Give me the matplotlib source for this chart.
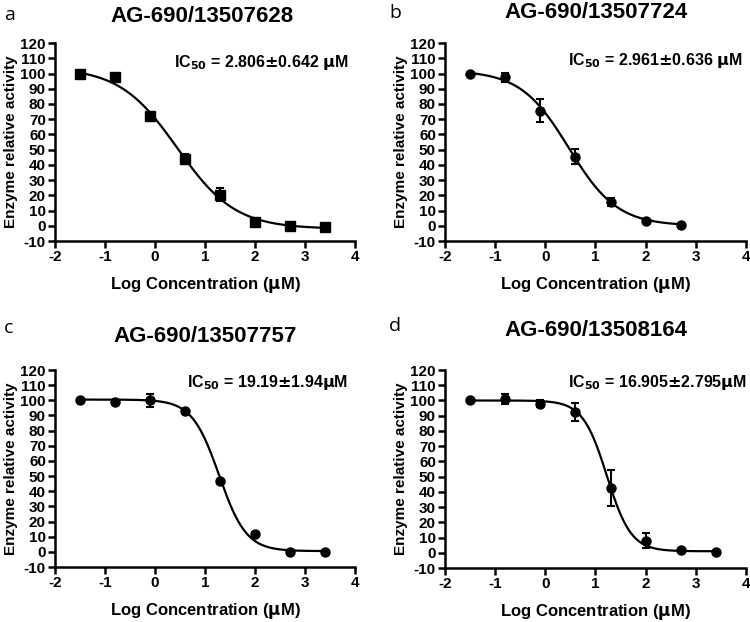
import numpy as np
import matplotlib
matplotlib.use("Agg")
import matplotlib.pyplot as plt

plt.rcParams['font.family'] = ['Liberation Sans', 'DejaVu Sans']
plt.rcParams['mathtext.default'] = 'bf'
plt.rcParams['axes.unicode_minus'] = False

log_conc = [-1.5, -0.8, -0.1, 0.6, 1.3, 2.0, 2.7, 3.4]

titles = ["AG-690/13507628", "AG-690/13507724", "AG-690/13507757", "AG-690/13508164"]
panel_labels = ["a", "b", "c", "d"]
ic50_texts = [r"IC$_{50}$ = 2.806$\pm$0.642 $\mu$M",
              r"IC$_{50}$ = 2.961$\pm$0.636 $\mu$M",
              r"IC$_{50}$ = 19.19$\pm$1.94$\mu$M",
              r"IC$_{50}$ = 16.905$\pm$2.795$\mu$M"]

a_y = [100, 97.5, 72, 44, 20.5, 2.5, 0, -0.5]
a_err = [1, 1.5, 3, 3, 4.5, 1, 0.5, 0.5]
b_y = [100, 97.5, 75.5, 45.5, 15.5, 3, 0.5]
b_err = [0.5, 3, 7.5, 5, 2.5, 0.5, 0.5]
c_y = [100, 99, 100, 93, 47, 12, 0, 0]
c_err = [0.5, 0.5, 4.5, 0.5, 0.5, 1, 0.5, 0.5]
d_y = [100, 101, 98, 92.5, 42.5, 8, 1.5, 0.5]
d_err = [0.5, 3, 2.5, 6, 12, 5, 0.5, 0.5]

# fitted 4PL parameters: top, bottom, logIC50, hill
fits = [(104, -2, np.log10(2.806), 0.75),
        (102, 0, np.log10(2.961), 0.9),
        (100.5, 0.5, np.log10(19.19), 1.6),
        (100, 1, np.log10(16.905), 1.8)]

ys = [a_y, b_y, c_y, d_y]
errs = [a_err, b_err, c_err, d_err]
markers = ['s', 'o', 'o', 'o']

W, H = 750, 622
fig = plt.figure(figsize=(7.5, 6.22), dpi=100)
positions = [(0.0733, 0.6125, 0.40, 0.3183),
             (0.5933, 0.6125, 0.4013, 0.3183),
             (0.0733, 0.0884, 0.40, 0.3167),
             (0.5933, 0.0868, 0.4013, 0.3183)]
title_px = [(202, 17), (596, 13), (205, 337), (596, 330)]
label_px = [(4, 15), (389, 13), (4, 328), (389, 326)]
ic_px = [(348, 62), (742, 60), (348, 383), (747, 383)]

def fx(px):
    return px / W

def fy(py):
    return 1 - py / H

for i in range(4):
    ax = fig.add_axes(positions[i])
    y = ys[i]
    x = log_conc[:len(y)]
    ax.errorbar(x, y, yerr=errs[i], fmt=markers[i], color='black', ms=6.5,
                capsize=3, elinewidth=1.5, capthick=1.5, zorder=3)
    top, bot, lic, h = fits[i]
    xx = np.linspace(x[0], x[-1], 300)
    yy = bot + (top - bot) / (1 + 10 ** ((xx - lic) * h))
    ax.plot(xx, yy, color='black', lw=1.6, zorder=2)
    ax.set_xlim(-2, 4)
    ax.set_ylim(-10, 120)
    ax.set_xticks(range(-2, 5))
    ax.set_yticks(range(-10, 121, 10))
    ax.spines['top'].set_visible(False)
    ax.spines['right'].set_visible(False)
    for s in ['left', 'bottom']:
        ax.spines[s].set_linewidth(1.8)
    ax.tick_params(width=1.8, length=5, labelsize=11, pad=1.5)
    for lab in ax.get_xticklabels() + ax.get_yticklabels():
        lab.set_fontweight('bold')
    ax.set_xlabel(r"Log Concentration ($\mu$M)", fontsize=12, fontweight='bold', labelpad=8)
    ax.set_ylabel("Enzyme relative activity", fontsize=11, fontweight='bold', labelpad=2)
    tx, ty = title_px[i]
    fig.text(fx(tx), fy(ty), titles[i], fontsize=16, fontweight='bold', ha='center', va='center')
    ix, iy = ic_px[i]
    fig.text(fx(ix), fy(iy), ic50_texts[i], ha='right', va='center',
             fontsize=11.5, fontweight='bold')
    lx, ly = label_px[i]
    fig.text(fx(lx), fy(ly), panel_labels[i], fontsize=14,
             family=['Open Sans', 'DejaVu Sans'], va='center', ha='left')

fig.savefig("out.png", dpi=100)
